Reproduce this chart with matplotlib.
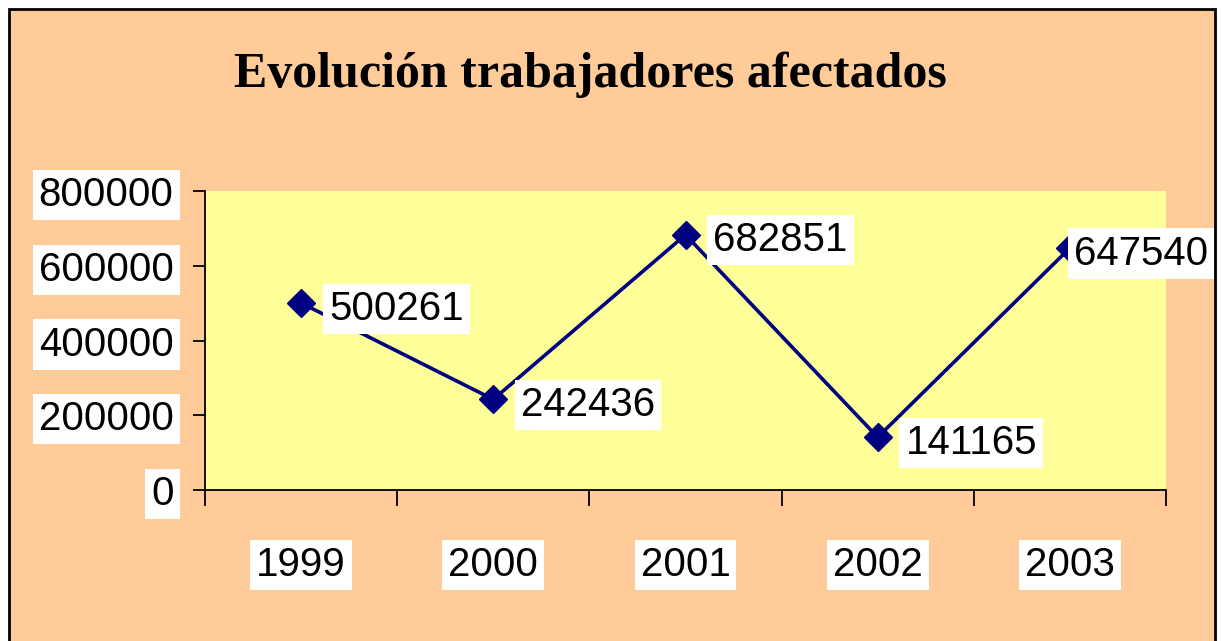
import matplotlib.pyplot as plt
from matplotlib.patches import Rectangle

# Data
years = ['1999', '2000', '2001', '2002', '2003']
workers = [500261, 242436, 682851, 141165, 647540]
y_ticks = [0, 200000, 400000, 600000, 800000]

num_font = 'Liberation Sans'
num_size = 29

fig = plt.figure(figsize=(12.22, 6.41), dpi=100, facecolor='white')

# Peach chart area with black border
fig.patches.append(Rectangle((9 / 1222, -0.05), 1206 / 1222, 1 - 9 / 641 + 0.05,
                             transform=fig.transFigure, facecolor='#FFCC99',
                             edgecolor='black', linewidth=2, zorder=-1))

ax = fig.add_axes([205 / 1222, 1 - 490 / 641, 961 / 1222, 299 / 641])
ax.set_facecolor('#FFFF99')

x = list(range(len(years)))
ax.plot(x, workers, color='#000080', linewidth=2.6, marker='D', markersize=14,
        markerfacecolor='#000080', markeredgecolor='#000080', zorder=3)

# Data labels to the right of each point (last one tucked closer)
for i, v in enumerate(workers):
    dx = 3 if i == len(workers) - 1 else 20
    ax.annotate(str(v), (i, v), xytext=(dx, -4), textcoords='offset points',
                ha='left', va='center', fontsize=num_size, family=num_font,
                bbox=dict(boxstyle='square,pad=0.15', facecolor='white', edgecolor='none'),
                annotation_clip=False, zorder=4)

ax.set_xlim(-0.5, len(years) - 0.5)
ax.set_ylim(0, 800000)

ax.set_yticks(y_ticks)
ax.set_yticklabels([str(t) for t in y_ticks], fontsize=num_size, family=num_font)
ax.set_xticks(x)
ax.set_xticklabels(years, fontsize=num_size, family=num_font)
ax.set_xticks([i - 0.5 for i in range(len(years) + 1)], minor=True)

ax.tick_params(axis='y', direction='out', length=8.6, width=1.3, pad=14)
ax.tick_params(axis='x', which='major', length=0, pad=40)
ax.tick_params(axis='x', which='minor', direction='out', length=11.5, width=1.3)

for lab in ax.get_xticklabels() + ax.get_yticklabels():
    lab.set_bbox(dict(boxstyle='square,pad=0.15', facecolor='white', edgecolor='none'))

ax.spines['top'].set_visible(False)
ax.spines['right'].set_visible(False)
ax.spines['left'].set_linewidth(1.3)
ax.spines['bottom'].set_linewidth(1.3)

fig.text(590 / 1222, 1 - 75 / 641, 'Evolución trabajadores afectados',
         ha='center', va='center', fontsize=36, fontweight='bold',
         family='Liberation Serif')

plt.savefig('out.png', dpi=100)
plt.close()
